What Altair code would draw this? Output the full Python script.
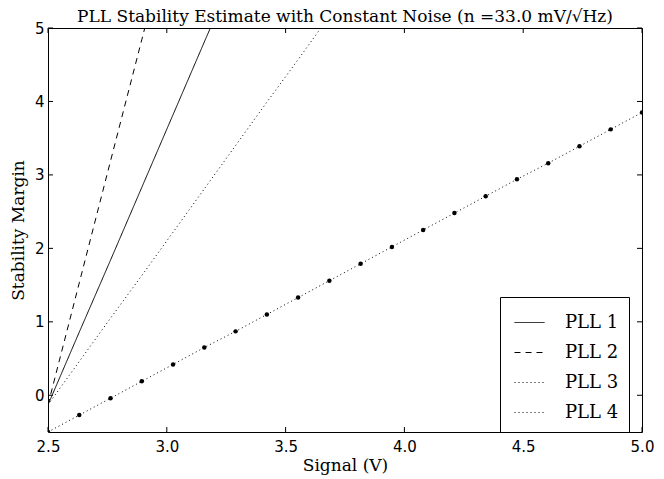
import altair as alt
import pandas as pd

x_vals = [2.5, 2.6316, 2.7632, 2.8947, 3.0263, 3.1579, 3.2895, 3.4211, 3.5526, 3.6842,
          3.8158, 3.9474, 4.0789, 4.2105, 4.3421, 4.4737, 4.6053, 4.7368, 4.8684, 5.0]
pll1 = [-0.13, 0.86, 1.84, 2.83, 3.82, 4.81, 5.79, 6.78, 7.76, 8.75,
        9.74, 10.72, 11.71, 12.70, 13.68, 14.67, 15.66, 16.64, 17.63, 18.62]
pll2 = [-0.13, 1.53, 3.19, 4.84, 6.50, 8.16, 9.82, 11.47, 13.13, 14.79,
        16.45, 18.11, 19.76, 21.42, 23.08, 24.74, 26.40, 28.05, 29.71, 31.37]
pll3 = [-0.13, 0.46, 1.05, 1.63, 2.22, 2.81, 3.40, 3.99, 4.57, 5.16,
        5.75, 6.34, 6.93, 7.51, 8.10, 8.69, 9.28, 9.87, 10.45, 11.04]
pll4 = [-0.50, -0.27, -0.04, 0.19, 0.42, 0.65, 0.87, 1.10, 1.33, 1.56,
        1.79, 2.02, 2.25, 2.48, 2.71, 2.94, 3.16, 3.39, 3.62, 3.85]
series_names = ["PLL 1", "PLL 2", "PLL 3", "PLL 4"]
x_ticks = [2.5, 3.0, 3.5, 4.0, 4.5, 5.0]
y_ticks = [0, 1, 2, 3, 4, 5]

rows = []
for name, ys in zip(series_names, [pll1, pll2, pll3, pll4]):
    for xv, yv in zip(x_vals, ys):
        rows.append({"x": xv, "y": yv, "series": name})
df = pd.DataFrame(rows)
df4 = df[df["series"] == "PLL 4"]

W, H = 594, 404
SERIF = "DejaVu Serif"

xscale = alt.Scale(domain=[2.5, 5.0], nice=False, zero=False)
yscale = alt.Scale(domain=[-0.5, 5.0], nice=False, zero=False)

lines = alt.Chart(df).mark_line(color="black", strokeWidth=1, clip=True).encode(
    x=alt.X("x:Q", scale=xscale,
            axis=alt.Axis(values=x_ticks, format=".1f", title="Signal (V)",
                          labelPadding=7, titlePadding=3, labelFlush=False)),
    y=alt.Y("y:Q", scale=yscale,
            axis=alt.Axis(values=y_ticks, format="d", title="Stability Margin",
                          labelPadding=4, titlePadding=7, labelFlush=False)),
    strokeDash=alt.StrokeDash(
        "series:N",
        scale=alt.Scale(domain=series_names, range=[[1, 0], [6, 5], [1, 3], [1, 3]]),
        legend=alt.Legend(
            title=None, orient="none", legendX=452, legendY=269,
            symbolType="stroke", symbolSize=900, symbolStrokeWidth=1,
            symbolStrokeColor="black", symbolOffset=4,
            labelFont=SERIF, labelFontSize=18,
            labelColor="black", labelOffset=20, rowPadding=5,
            padding=10, strokeColor="black", fillColor="white",
            cornerRadius=0,
        ),
    ),
)

points = alt.Chart(df4).mark_circle(color="black", size=20, opacity=1, clip=True).encode(
    x=alt.X("x:Q", scale=xscale),
    y=alt.Y("y:Q", scale=yscale),
)

xt = pd.DataFrame({"v": x_ticks})
yt = pd.DataFrame({"v": y_ticks})
tick_len = 5
bottom_ticks = alt.Chart(xt).mark_rule(color="black", strokeWidth=1).encode(
    x=alt.X("v:Q", scale=xscale), y=alt.value(H), y2=alt.value(H - tick_len))
top_ticks = alt.Chart(xt).mark_rule(color="black", strokeWidth=1).encode(
    x=alt.X("v:Q", scale=xscale), y=alt.value(0), y2=alt.value(tick_len))
left_ticks = alt.Chart(yt).mark_rule(color="black", strokeWidth=1).encode(
    y=alt.Y("v:Q", scale=yscale), x=alt.value(0), x2=alt.value(tick_len))
right_ticks = alt.Chart(yt).mark_rule(color="black", strokeWidth=1).encode(
    y=alt.Y("v:Q", scale=yscale), x=alt.value(W), x2=alt.value(W - tick_len))

chart = alt.layer(lines, points, bottom_ticks, top_ticks, left_ticks, right_ticks).properties(
    width=W, height=H,
    title=alt.Title("PLL Stability Estimate with Constant Noise (n =33.0 mV/\u221aHz)",
                    font=SERIF, fontSize=17, fontWeight="normal", color="black",
                    anchor="middle", frame="group", offset=0, dy=5),
    autosize=alt.AutoSizeParams(type="none"),
    padding={"left": 40, "top": 20, "right": 14, "bottom": 44},
).configure(background="white").configure_view(stroke="black", strokeWidth=1).configure_axis(
    grid=False, domain=False, ticks=False, tickSize=0,
    labelFont="DejaVu Sans", labelFontSize=15, labelColor="black",
    titleFont=SERIF, titleFontSize=17, titleFontWeight="normal", titleColor="black",
)

chart.save("out.html", embed_options={"renderer": "svg", "actions": False})
